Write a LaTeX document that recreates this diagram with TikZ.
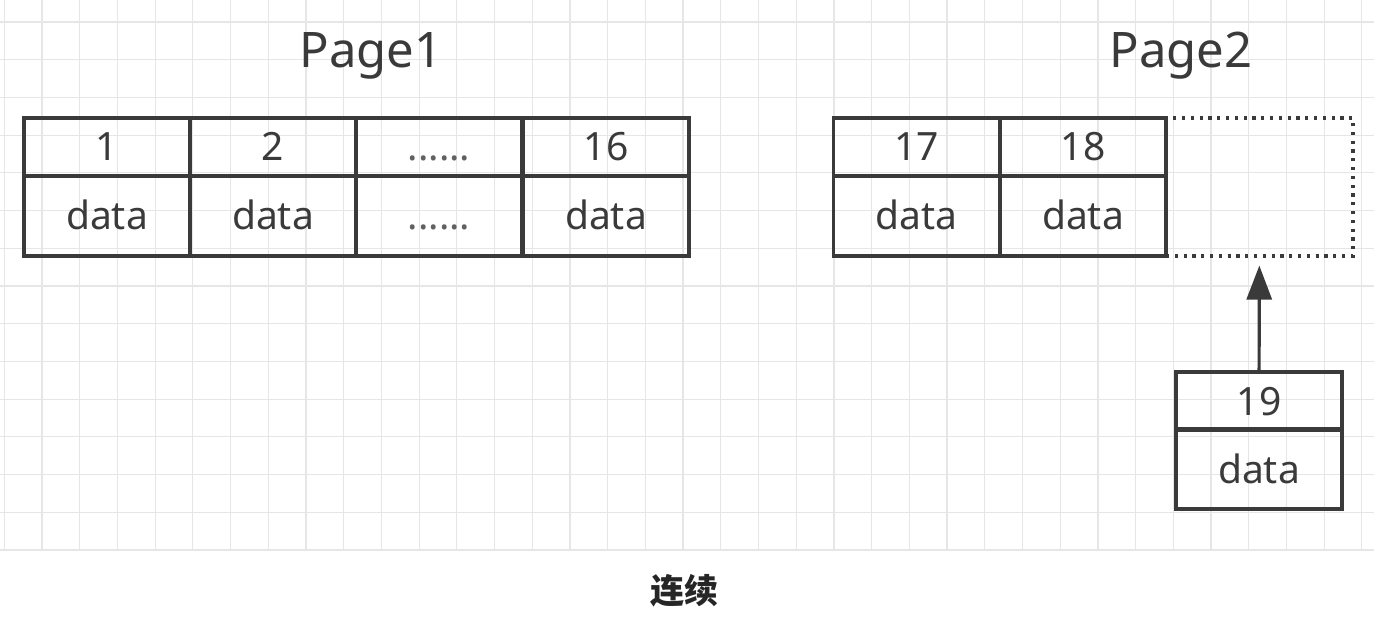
\documentclass[tikz,border=0pt]{standalone}
\usepackage{fontspec}
\setmainfont{Noto Sans}
\newfontfamily\cjk{Noto Sans CJK SC}
\usetikzlibrary{arrows.meta}
\definecolor{ink}{HTML}{3A3A3A}
\definecolor{gridc}{HTML}{E6E6E6}
\begin{document}
\begin{tikzpicture}[x=0.5pt, y=-0.5pt]
        \tikzstyle{keycell} = [draw=ink, line width=1.6pt, minimum width=83pt, minimum height=29pt, inner sep=0pt, text height=14pt, text depth=0pt, text=ink, font=\fontsize{19.5}{22}\selectfont]
        \tikzstyle{datacell} = [keycell, minimum height=40pt]
        \tikzstyle{title} = [anchor=base, text=ink, font=\fontsize{24.5}{28}\selectfont]
        \useasboundingbox (0,0) rectangle (1374,630);
        % grid
        \foreach \i in {0,...,36}
          \draw[gridc, line width=0.6pt] ({4.3+37.71*\i},0) -- ({4.3+37.71*\i},550);
        \foreach \j in {0,...,14}
          \draw[gridc, line width=0.6pt] (0,{22+37.71*\j}) -- (1374,{22+37.71*\j});
        \node[title] (P1) at (371, 68) {Page1};
        \node[title] (P2) at (1181, 68) {Page2};
        % page 1
        \node[keycell] (K1) at (107, 147) {1};
        \node[keycell] (K2) at (273, 147) {2};
        \node[keycell, text=ink!80] (Kx) at (439, 147) {......};
        \node[keycell] (K16) at (606, 147) {16};
        \node[datacell] (D1) at (107, 216) {data};
        \node[datacell] (D2) at (273, 216) {data};
        \node[datacell, text=ink!80] (Dx) at (439, 216) {......};
        \node[datacell] (D16) at (606, 216) {data};
        % page 2
        \node[draw=ink, line width=1.6pt, dash pattern=on 1.6pt off 2.8pt, minimum width=93.5pt, minimum height=69pt, inner sep=0pt] (S) at (1259.5, 187) {};
        \node[keycell] (K17) at (916.5, 147) {17};
        \node[keycell] (K18) at (1083, 147) {18};
        \node[datacell] (D17) at (916.5, 216) {data};
        \node[datacell] (D18) at (1083, 216) {data};
        % new record
        \node[keycell] (K19) at (1259, 401) {19};
        \node[datacell] (D19) at (1259, 469) {data};
        \draw[-{Triangle[length=17pt, width=12.5pt]}, ink, line width=1.6pt, shorten >=4pt] (K19) -- (S);
        \node[text=black!85, font=\cjk\bfseries\fontsize{17}{20}\selectfont] (L) at (684, 591) {连续};
      \end{tikzpicture}
\end{document}
